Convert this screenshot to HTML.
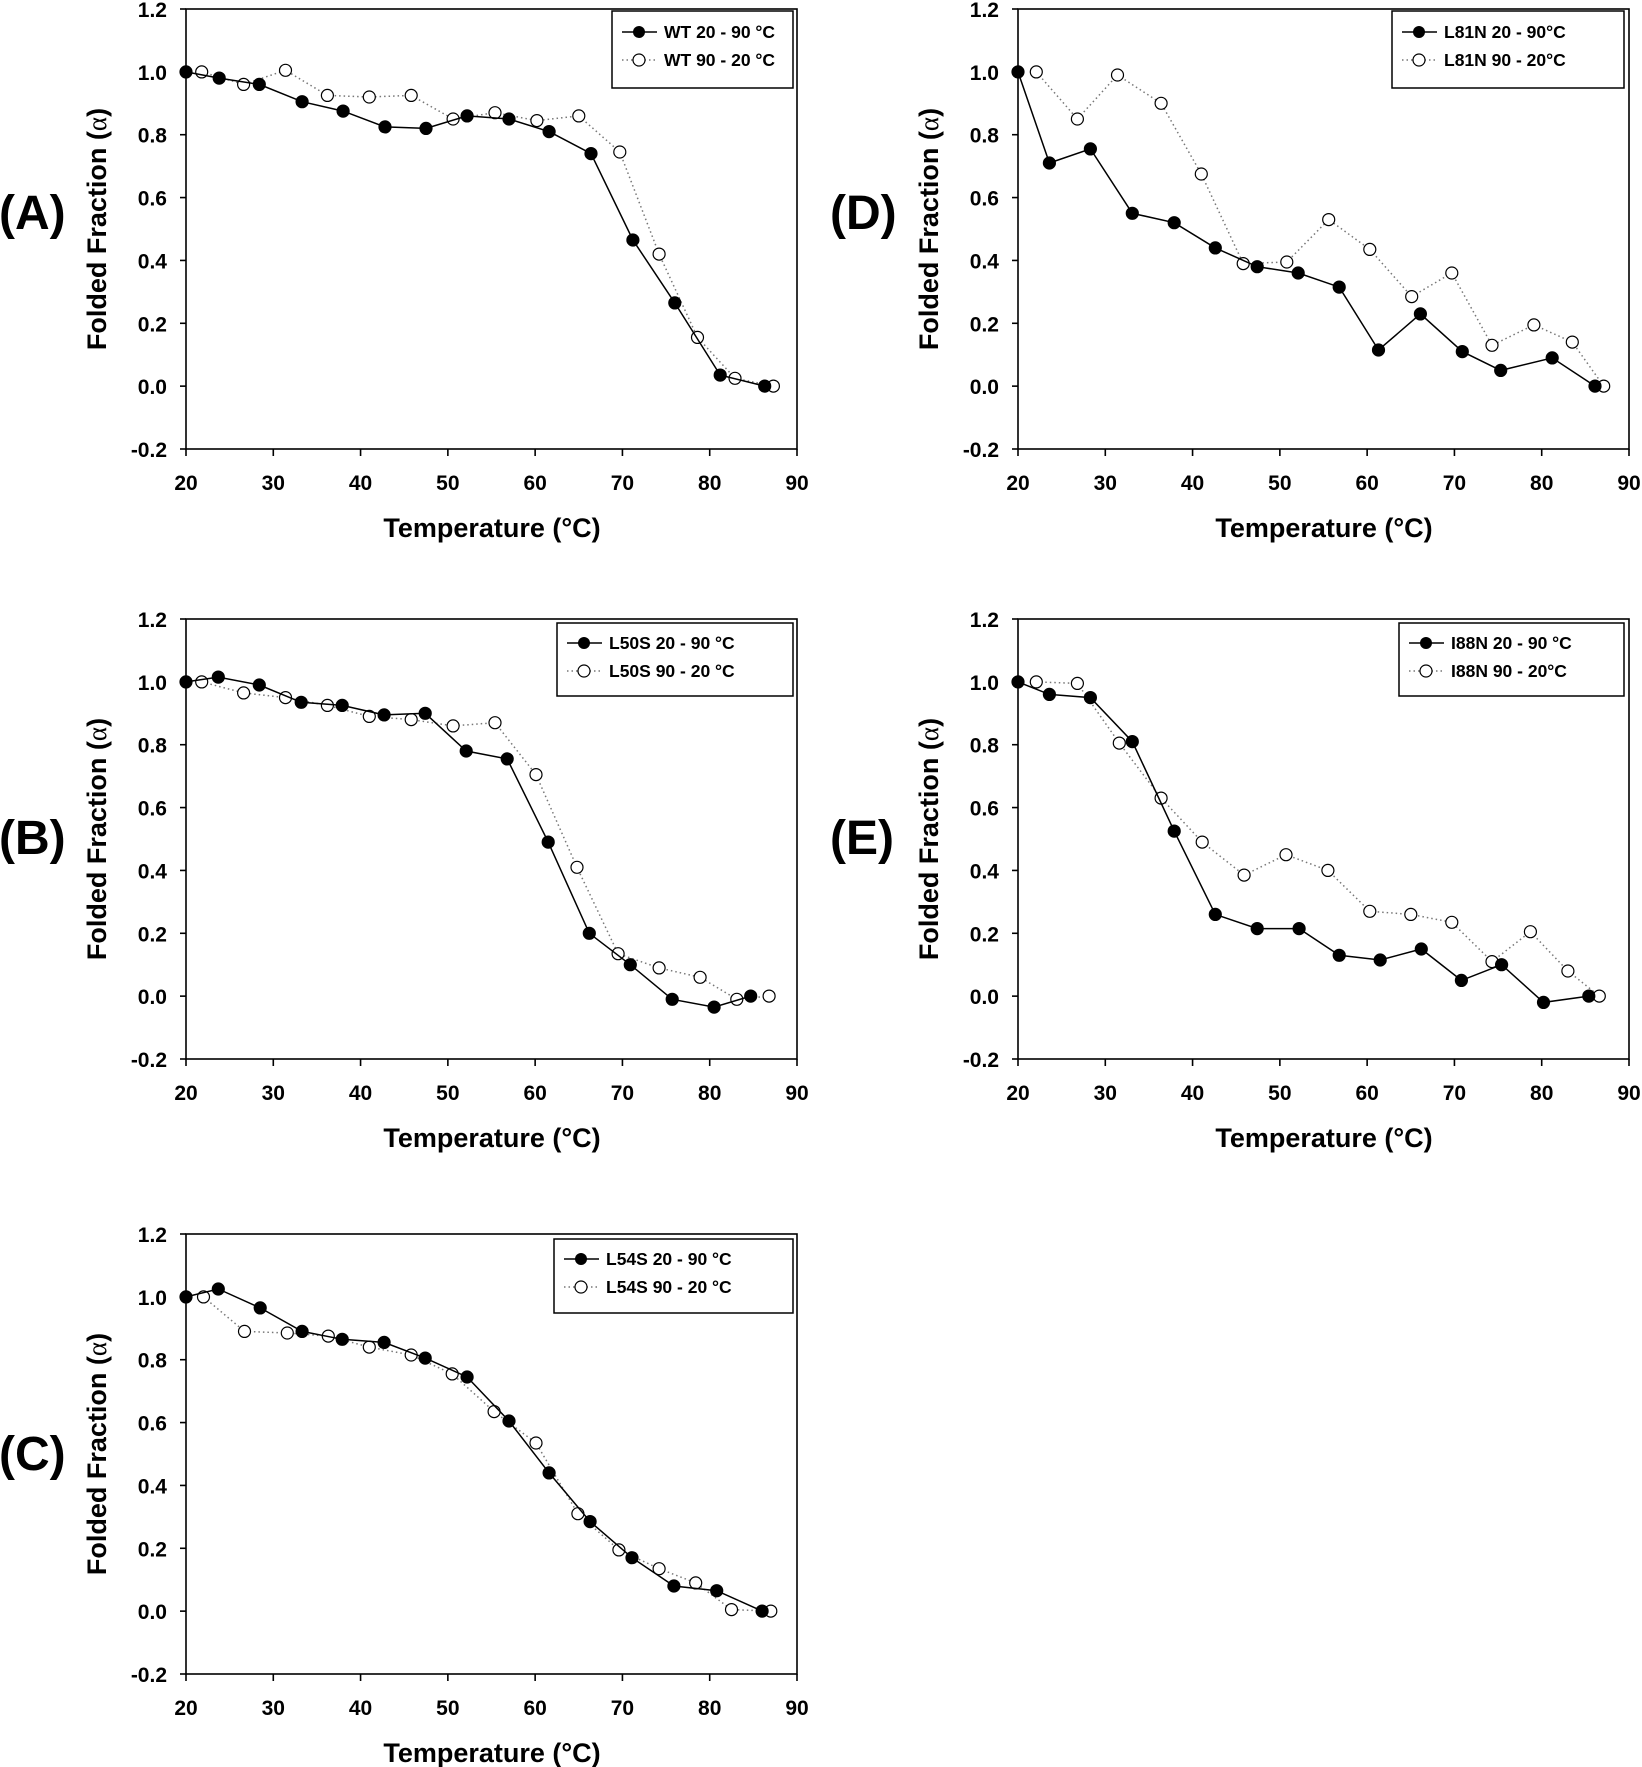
<!DOCTYPE html>
<html><head><meta charset="utf-8"><style>
html,body{margin:0;padding:0;background:#fff;}
svg{display:block;font-family:"Liberation Sans",Arial,sans-serif;font-weight:bold;}
.tl{font-size:21px;}
.at{font-size:27px;}
.pl{font-size:48px;}
.lg{font-size:17.5px;}
</style></head><body>
<svg id="s" width="1642" height="1767" viewBox="0 0 1642 1767" xmlns="http://www.w3.org/2000/svg">
<defs>
<g id="axes">
 <rect x="0" y="0" width="611" height="440" fill="none" stroke="#000" stroke-width="1.6"/>
 <g stroke="#000" stroke-width="1.6">
  <line x1="-6" y1="0" x2="0" y2="0"/><line x1="-6" y1="62.86" x2="0" y2="62.86"/><line x1="-6" y1="125.71" x2="0" y2="125.71"/><line x1="-6" y1="188.57" x2="0" y2="188.57"/><line x1="-6" y1="251.43" x2="0" y2="251.43"/><line x1="-6" y1="314.29" x2="0" y2="314.29"/><line x1="-6" y1="377.14" x2="0" y2="377.14"/><line x1="-6" y1="440" x2="0" y2="440"/>
  <line x1="0" y1="440" x2="0" y2="447"/><line x1="87.29" y1="440" x2="87.29" y2="447"/><line x1="174.57" y1="440" x2="174.57" y2="447"/><line x1="261.86" y1="440" x2="261.86" y2="447"/><line x1="349.14" y1="440" x2="349.14" y2="447"/><line x1="436.43" y1="440" x2="436.43" y2="447"/><line x1="523.71" y1="440" x2="523.71" y2="447"/><line x1="611" y1="440" x2="611" y2="447"/>
 </g>
 <g class="tl" text-anchor="end">
  <text x="-19" y="8">1.2</text><text x="-19" y="70.86">1.0</text><text x="-19" y="133.71">0.8</text><text x="-19" y="196.57">0.6</text><text x="-19" y="259.43">0.4</text><text x="-19" y="322.29">0.2</text><text x="-19" y="385.14">0.0</text><text x="-19" y="448">-0.2</text>
 </g>
 <g class="tl" text-anchor="middle">
  <text x="0" y="481">20</text><text x="87.29" y="481">30</text><text x="174.57" y="481">40</text><text x="261.86" y="481">50</text><text x="349.14" y="481">60</text><text x="436.43" y="481">70</text><text x="523.71" y="481">80</text><text x="611" y="481">90</text>
 </g>
 <text class="at" x="306" y="528" text-anchor="middle">Temperature (°C)</text>
 <text class="at" transform="translate(-80,220) rotate(-90)" text-anchor="middle">Folded Fraction (<tspan font-family="'Liberation Serif',serif" font-weight="normal">α</tspan>)</text>
</g>
</defs>

<g transform="translate(186,9)" id="pA">
 <use href="#axes"/>
 <text class="pl" x="-187" y="220">(A)</text>
 <rect x="426" y="2" width="181" height="77" fill="#fff" stroke="#000" stroke-width="1.5"/>
 <line x1="436" y1="23" x2="471" y2="23" stroke="#000" stroke-width="1.5"/><circle cx="453" cy="23" r="6" fill="#000"/>
 <line x1="436" y1="51" x2="471" y2="51" stroke="#777" stroke-width="1.5" stroke-dasharray="1.5,3"/><circle cx="453" cy="51" r="6" fill="#fff" stroke="#000" stroke-width="1.2"/>
 <text class="lg" x="478" y="29">WT 20 - 90 °C</text><text class="lg" x="478" y="57">WT 90 - 20 °C</text>
</g>
<g transform="translate(1018,9)" id="pD">
 <use href="#axes"/>
 <text class="pl" x="-188" y="220">(D)</text>
 <rect x="374" y="2" width="232" height="77" fill="#fff" stroke="#000" stroke-width="1.5"/>
 <line x1="384" y1="23" x2="419" y2="23" stroke="#000" stroke-width="1.5"/><circle cx="401" cy="23" r="6" fill="#000"/>
 <line x1="384" y1="51" x2="419" y2="51" stroke="#777" stroke-width="1.5" stroke-dasharray="1.5,3"/><circle cx="401" cy="51" r="6" fill="#fff" stroke="#000" stroke-width="1.2"/>
 <text class="lg" x="426" y="29">L81N 20 -  90°C</text><text class="lg" x="426" y="57">L81N 90 - 20°C</text>
</g>
<g transform="translate(186,619)" id="pB">
 <use href="#axes"/>
 <text class="pl" x="-187" y="235">(B)</text>
 <rect x="371" y="4" width="236" height="73" fill="#fff" stroke="#000" stroke-width="1.5"/>
 <line x1="381" y1="24" x2="416" y2="24" stroke="#000" stroke-width="1.5"/><circle cx="398" cy="24" r="6" fill="#000"/>
 <line x1="381" y1="52" x2="416" y2="52" stroke="#777" stroke-width="1.5" stroke-dasharray="1.5,3"/><circle cx="398" cy="52" r="6" fill="#fff" stroke="#000" stroke-width="1.2"/>
 <text class="lg" x="423" y="30">L50S 20 - 90 °C</text><text class="lg" x="423" y="58">L50S 90 - 20 °C</text>
</g>
<g transform="translate(1018,619)" id="pE">
 <use href="#axes"/>
 <text class="pl" x="-188" y="235">(E)</text>
 <rect x="381" y="4" width="225" height="73" fill="#fff" stroke="#000" stroke-width="1.5"/>
 <line x1="391" y1="24" x2="426" y2="24" stroke="#000" stroke-width="1.5"/><circle cx="408" cy="24" r="6" fill="#000"/>
 <line x1="391" y1="52" x2="426" y2="52" stroke="#777" stroke-width="1.5" stroke-dasharray="1.5,3"/><circle cx="408" cy="52" r="6" fill="#fff" stroke="#000" stroke-width="1.2"/>
 <text class="lg" x="433" y="30">I88N 20 - 90 °C</text><text class="lg" x="433" y="58">I88N 90 - 20°C</text>
</g>
<g transform="translate(186,1234)" id="pC">
 <use href="#axes"/>
 <text class="pl" x="-187" y="236">(C)</text>
 <rect x="368" y="5" width="239" height="74" fill="#fff" stroke="#000" stroke-width="1.5"/>
 <line x1="378" y1="25" x2="413" y2="25" stroke="#000" stroke-width="1.5"/><circle cx="395" cy="25" r="6" fill="#000"/>
 <line x1="378" y1="53" x2="413" y2="53" stroke="#777" stroke-width="1.5" stroke-dasharray="1.5,3"/><circle cx="395" cy="53" r="6" fill="#fff" stroke="#000" stroke-width="1.2"/>
 <text class="lg" x="420" y="31">L54S 20 - 90 °C</text><text class="lg" x="420" y="59">L54S 90 - 20 °C</text>
</g>
</svg>
<script>
var D={
pA:[[20,1.0,23.8,0.98,28.4,0.96,33.3,0.905,38,0.875,42.8,0.825,47.5,0.82,52.2,0.86,57,0.85,61.6,0.81,66.4,0.74,71.2,0.465,76,0.265,81.2,0.035,86.3,0.0],
[21.8,1.0,26.6,0.96,31.4,1.005,36.2,0.925,41,0.92,45.8,0.925,50.6,0.85,55.4,0.87,60.2,0.845,65,0.86,69.7,0.745,74.2,0.42,78.6,0.155,82.9,0.025,87.3,0.0]],
pD:[[20,1.0,23.6,0.71,28.3,0.755,33.1,0.55,37.9,0.52,42.6,0.44,47.4,0.38,52.1,0.36,56.8,0.315,61.3,0.115,66.1,0.23,70.9,0.11,75.3,0.05,81.2,0.09,86.1,0.0],
[22.1,1.0,26.8,0.85,31.4,0.99,36.4,0.9,41,0.675,45.8,0.39,50.8,0.395,55.6,0.53,60.3,0.435,65.1,0.285,69.7,0.36,74.3,0.13,79.1,0.195,83.5,0.14,87.1,0.0]],
pB:[[20,1.0,23.7,1.015,28.4,0.99,33.2,0.935,37.9,0.925,42.7,0.895,47.4,0.9,52.1,0.78,56.8,0.755,61.5,0.49,66.2,0.2,70.9,0.1,75.7,-0.01,80.5,-0.035,84.7,0.0],
[21.8,1.0,26.6,0.965,31.4,0.95,36.2,0.925,41,0.89,45.8,0.88,50.6,0.86,55.4,0.87,60.1,0.705,64.8,0.41,69.5,0.135,74.2,0.09,78.9,0.06,83.1,-0.01,86.8,0.0]],
pE:[[20,1.0,23.6,0.96,28.3,0.95,33.1,0.81,37.9,0.525,42.6,0.26,47.4,0.215,52.2,0.215,56.8,0.13,61.5,0.115,66.2,0.15,70.8,0.05,75.4,0.1,80.2,-0.02,85.4,0.0],
[22.1,1.0,26.8,0.995,31.6,0.805,36.4,0.63,41.1,0.49,45.9,0.385,50.7,0.45,55.5,0.4,60.3,0.27,65,0.26,69.7,0.235,74.3,0.11,78.7,0.205,83,0.08,86.6,0.0]],
pC:[[20,1.0,23.7,1.025,28.5,0.965,33.3,0.89,37.9,0.865,42.7,0.855,47.4,0.805,52.2,0.745,57,0.605,61.6,0.44,66.3,0.285,71.1,0.17,75.9,0.08,80.8,0.065,86,0.0],
[22,1.0,26.7,0.89,31.6,0.885,36.3,0.875,41,0.84,45.8,0.815,50.5,0.755,55.3,0.635,60.1,0.535,64.9,0.31,69.6,0.195,74.2,0.135,78.4,0.09,82.5,0.005,87,0.0]]};
var NS="http://www.w3.org/2000/svg";
function mk(t,a){var e=document.createElementNS(NS,t);for(var k in a)e.setAttribute(k,a[k]);return e;}
for(var id in D){var g=document.getElementById(id);
 var grp=mk("g",{});
 [1,0].forEach(function(s){var a=D[id][s],pts=[];
  for(var i=0;i<a.length;i+=2)pts.push([(a[i]-20)*611/70,(1.2-a[i+1])*440/1.4]);
  grp.appendChild(mk("polyline",{points:pts.map(function(p){return p[0].toFixed(1)+","+p[1].toFixed(1)}).join(" "),fill:"none",stroke:s?"#777":"#000","stroke-width":1.5,"stroke-dasharray":s?"1.5,3":"none"}));
  pts.forEach(function(p){grp.appendChild(mk("circle",{cx:p[0].toFixed(1),cy:p[1].toFixed(1),r:6,fill:s?"#fff":"#000",stroke:"#000","stroke-width":1.2}));});
 });
 g.insertBefore(grp,g.children[2]);
}
</script>
</body></html>
